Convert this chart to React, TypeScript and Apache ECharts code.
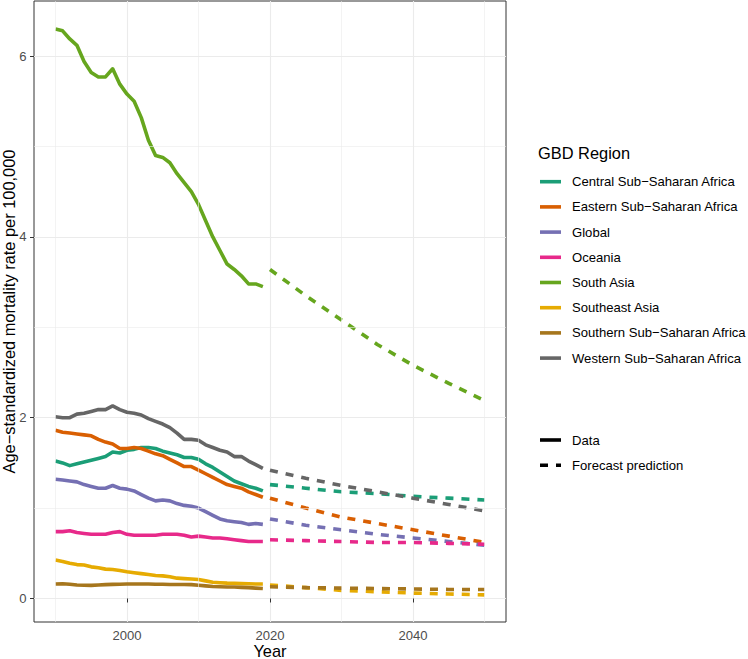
import React, { useEffect, useRef } from "react";
import * as echarts from "echarts";

const FONT = '"Liberation Sans", Arial, Helvetica, sans-serif';

// ---- categories ----
const regions = [
  "Central Sub−Saharan Africa",
  "Eastern Sub−Saharan Africa",
  "Global",
  "Oceania",
  "South Asia",
  "Southeast Asia",
  "Southern Sub−Saharan Africa",
  "Western Sub−Saharan Africa",
];
const regionColors = ["#1B9E77", "#D95F02", "#7570B3", "#E7298A", "#66A61E", "#E6AB02", "#A6761D", "#666666"];

const dataYears = [
  1990, 1991, 1992, 1993, 1994, 1995, 1996, 1997, 1998, 1999,
  2000, 2001, 2002, 2003, 2004, 2005, 2006, 2007, 2008, 2009,
  2010, 2011, 2012, 2013, 2014, 2015, 2016, 2017, 2018, 2019,
];
const forecastYears = [2020, 2025, 2030, 2035, 2040, 2045, 2050];

// ---- observed data (1990-2019) ----
const centralData = [1.52, 1.50, 1.47, 1.49, 1.51, 1.53, 1.55, 1.57, 1.62, 1.61, 1.64, 1.65, 1.67, 1.67, 1.66, 1.63, 1.61, 1.59, 1.56, 1.56, 1.54, 1.49, 1.45, 1.40, 1.35, 1.30, 1.27, 1.24, 1.22, 1.19];
const easternData = [1.86, 1.84, 1.83, 1.82, 1.81, 1.80, 1.76, 1.73, 1.71, 1.66, 1.66, 1.67, 1.66, 1.63, 1.60, 1.58, 1.54, 1.50, 1.46, 1.46, 1.42, 1.38, 1.34, 1.30, 1.26, 1.24, 1.22, 1.18, 1.15, 1.12];
const globalData = [1.32, 1.31, 1.30, 1.29, 1.26, 1.24, 1.22, 1.22, 1.25, 1.22, 1.21, 1.19, 1.15, 1.11, 1.08, 1.09, 1.08, 1.05, 1.03, 1.02, 1.00, 0.96, 0.92, 0.88, 0.86, 0.85, 0.84, 0.82, 0.83, 0.82];
const oceaniaData = [0.74, 0.74, 0.75, 0.73, 0.72, 0.71, 0.71, 0.71, 0.73, 0.74, 0.71, 0.70, 0.70, 0.70, 0.70, 0.71, 0.71, 0.71, 0.70, 0.68, 0.69, 0.68, 0.67, 0.67, 0.66, 0.65, 0.64, 0.63, 0.63, 0.63];
const southAsiaData = [6.30, 6.28, 6.19, 6.12, 5.94, 5.82, 5.77, 5.77, 5.86, 5.69, 5.58, 5.50, 5.32, 5.07, 4.90, 4.88, 4.82, 4.70, 4.60, 4.50, 4.36, 4.18, 4.00, 3.85, 3.70, 3.64, 3.57, 3.48, 3.48, 3.45];
const southeastData = [0.425, 0.41, 0.39, 0.375, 0.37, 0.35, 0.34, 0.325, 0.32, 0.31, 0.295, 0.285, 0.275, 0.265, 0.255, 0.25, 0.24, 0.225, 0.22, 0.215, 0.21, 0.195, 0.18, 0.175, 0.17, 0.168, 0.165, 0.163, 0.16, 0.16];
const southernData = [0.16, 0.163, 0.157, 0.15, 0.147, 0.145, 0.15, 0.153, 0.156, 0.157, 0.16, 0.16, 0.16, 0.16, 0.157, 0.157, 0.155, 0.155, 0.155, 0.153, 0.147, 0.14, 0.133, 0.13, 0.127, 0.127, 0.123, 0.12, 0.115, 0.11];
const westernData = [2.01, 2.00, 2.00, 2.04, 2.05, 2.07, 2.09, 2.09, 2.13, 2.09, 2.06, 2.05, 2.03, 1.99, 1.96, 1.93, 1.89, 1.83, 1.76, 1.76, 1.75, 1.70, 1.67, 1.64, 1.62, 1.57, 1.57, 1.52, 1.48, 1.44];

// ---- forecast prediction (2020-2050) ----
const centralForecast = [1.26, 1.22, 1.18, 1.16, 1.13, 1.11, 1.09];
const easternForecast = [1.11, 1.00, 0.90, 0.83, 0.76, 0.69, 0.62];
const globalForecast = [0.88, 0.81, 0.76, 0.71, 0.67, 0.63, 0.59];
const oceaniaForecast = [0.65, 0.64, 0.63, 0.62, 0.62, 0.61, 0.60];
const southAsiaForecast = [3.64, 3.35, 3.08, 2.81, 2.58, 2.38, 2.19];
const southeastForecast = [0.15, 0.12, 0.09, 0.075, 0.06, 0.05, 0.04];
const southernForecast = [0.13, 0.12, 0.115, 0.11, 0.105, 0.10, 0.10];
const westernForecast = [1.42, 1.33, 1.25, 1.18, 1.11, 1.04, 0.97];

const observed = [centralData, easternData, globalData, oceaniaData, southAsiaData, southeastData, southernData, westernData];
const forecasts = [centralForecast, easternForecast, globalForecast, oceaniaForecast, southAsiaForecast, southeastForecast, southernForecast, westernForecast];

// ---- axis ticks ----
const xMajorTicks = [2000, 2020, 2040];
const xMinorTicks = [1990, 2010, 2030, 2050];
const yMajorTicks = [0, 2, 4, 6];
const yMinorTicks = [1, 3, 5];

const lineTypes = ["Data", "Forecast prediction"];

export default function App() {
  const ref = useRef<HTMLDivElement>(null);
  useEffect(() => {
    const chart = echarts.init(ref.current!, null, { renderer: "svg" });
    const LW = 3.6;
    const DASH = [8, 8];
    const series: any[] = [];
    series.push({
      type: "line",
      data: [],
      silent: true,
      z: 1,
      markLine: {
        silent: true,
        symbol: ["none", "none"],
        label: { show: false },
        lineStyle: { type: "solid", color: "#ebebeb", width: 0.6 },
        emphasis: { disabled: true },
        data: [
          ...xMinorTicks.map((v) => ({ xAxis: v })),
          ...yMinorTicks.map((v) => ({ yAxis: v })),
        ],
      },
    });
    regions.forEach((name, i) => {
      series.push({
        name,
        type: "line",
        z: 2,
        symbol: "none",
        smooth: false,
        data: dataYears.map((y, k) => [y, observed[i][k]]),
        lineStyle: { color: regionColors[i], width: LW, cap: "butt", join: "round" },
        emphasis: { disabled: true },
      });
    });
    regions.forEach((name, i) => {
      series.push({
        name: name + " forecast",
        type: "line",
        z: 3,
        symbol: "none",
        smooth: false,
        data: forecastYears.map((y, k) => [y, forecasts[i][k]]),
        lineStyle: { color: regionColors[i], width: LW, type: DASH, cap: "butt", join: "round" },
        emphasis: { disabled: true },
      });
    });

    const legendX = 540;
    const graphics: any[] = [];
    graphics.push({
      type: "text",
      x: 538,
      y: 153,
      style: { text: "GBD Region", fill: "#000", fontSize: 16.4, fontFamily: FONT, align: "left", verticalAlign: "middle", textAlign: "left", textVerticalAlign: "middle" },
    });
    regions.forEach((name, i) => {
      const y = 181.7 + i * 25.2;
      graphics.push({
        type: "line",
        shape: { x1: legendX, y1: y, x2: legendX + 21, y2: y },
        style: { stroke: regionColors[i], lineWidth: LW },
      });
      graphics.push({
        type: "text",
        x: 572,
        y,
        style: { text: name, fill: "#000", fontSize: 13.1, fontFamily: FONT, align: "left", verticalAlign: "middle", textAlign: "left", textVerticalAlign: "middle" },
      });
    });
    lineTypes.forEach((name, i) => {
      const y = 440 + i * 25.2;
      graphics.push({
        type: "line",
        shape: { x1: legendX, y1: y, x2: legendX + 21, y2: y },
        style: { stroke: "#000", lineWidth: LW, lineDash: i === 1 ? DASH : null },
      });
      graphics.push({
        type: "text",
        x: 572,
        y,
        style: { text: name, fill: "#000", fontSize: 13.1, fontFamily: FONT, align: "left", verticalAlign: "middle", textAlign: "left", textVerticalAlign: "middle" },
      });
    });

    const option: any = {
      animation: false,
      backgroundColor: "#ffffff",
      textStyle: { fontFamily: FONT },
      grid: {
        left: 34,
        top: 1,
        right: 242,
        bottom: 37,
        show: true,
        borderColor: "#333333",
        borderWidth: 1,
        backgroundColor: "transparent",
        containLabel: false,
        outerBoundsMode: "none",
      },
      xAxis: {
        type: "value",
        min: 1987,
        max: 2053,
        name: "Year",
        nameLocation: "middle",
        nameGap: 20,
        nameMoveOverlap: false,
        nameTextStyle: { color: "#000", fontSize: 16.4, lineHeight: 17, fontFamily: FONT },
        axisLine: { show: false },
        axisTick: { show: true, length: 4, lineStyle: { color: "#333333", width: 1 }, customValues: xMajorTicks },
        axisLabel: { color: "#4d4d4d", fontSize: 13.1, fontFamily: FONT, margin: 7, customValues: xMajorTicks, formatter: (v: number) => String(v) },
        splitLine: { show: true, lineStyle: { color: "#ebebeb", width: 1.1 } },
        minorSplitLine: { show: false },
      },
      yAxis: {
        type: "value",
        min: -0.26,
        max: 6.61,
        name: "Age−standardized mortality rate per 100,000",
        nameLocation: "middle",
        nameGap: 17,
        nameRotate: 90,
        nameMoveOverlap: false,
        nameTextStyle: { color: "#000", fontSize: 16.4, lineHeight: 17, fontFamily: FONT },
        axisLine: { show: false },
        axisTick: { show: true, length: 4, lineStyle: { color: "#333333", width: 1 }, customValues: yMajorTicks },
        axisLabel: { color: "#4d4d4d", fontSize: 13.1, fontFamily: FONT, margin: 7.5, customValues: yMajorTicks, formatter: (v: number) => String(v) },
        splitLine: { show: true, lineStyle: { color: "#ebebeb", width: 1.1 } },
      },
      series,
      graphic: graphics,
    };
    chart.setOption(option);
    return () => chart.dispose();
  }, []);
  return <div ref={ref} style={{ position: "absolute", left: 0, top: 0, width: 748, height: 659 }} />;
}
